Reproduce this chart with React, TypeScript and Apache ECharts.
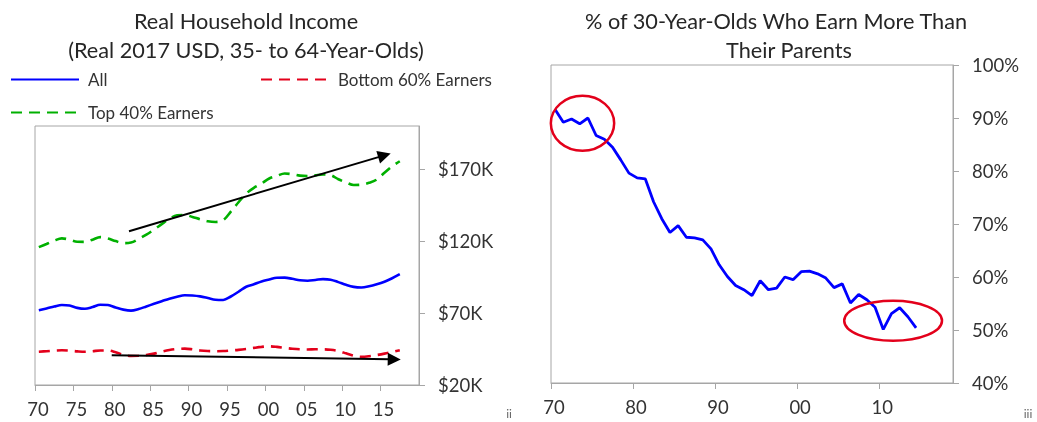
import React, { useEffect, useRef } from "react";
import * as echarts from "echarts";

// ---------- Data ----------
const incomeYears = [
  1970, 1971, 1972, 1973, 1974, 1975, 1976, 1977, 1978, 1979,
  1980, 1981, 1982, 1983, 1984, 1985, 1986, 1987, 1988, 1989,
  1990, 1991, 1992, 1993, 1994, 1995, 1996, 1997, 1998, 1999,
  2000, 2001, 2002, 2003, 2004, 2005, 2006, 2007, 2008, 2009,
  2010, 2011, 2012, 2013, 2014, 2015, 2016, 2017,
];
// thousands of real 2017 USD
const allIncome = [
  72.0, 73.2, 74.5, 75.6, 75.2, 73.6, 73.0, 74.2, 75.8, 75.6,
  73.9, 72.4, 71.7, 72.8, 74.6, 76.4, 78.2, 80.0, 81.4, 82.4,
  82.2, 81.6, 80.5, 79.3, 79.1, 81.5, 84.8, 88.3, 90.0, 92.0,
  93.3, 94.5, 94.6, 93.8, 92.8, 92.5, 93.0, 93.6, 93.2, 91.5,
  89.6, 88.2, 87.8, 88.6, 90.0, 91.8, 94.2, 97.0,
];
const bottom60Income = [
  43.1, 43.5, 43.9, 44.1, 43.9, 43.4, 43.1, 43.5, 44.0, 44.0,
  42.8, 41.0, 40.2, 40.3, 40.8, 41.8, 43.2, 44.3, 45.0, 45.3,
  44.8, 44.0, 43.6, 43.5, 43.6, 44.0, 44.4, 45.0, 45.8, 46.5,
  46.9, 46.5, 45.8, 45.2, 44.8, 44.7, 44.8, 44.8, 44.5, 43.6,
  42.0, 40.3, 39.6, 40.0, 40.8, 41.8, 43.0, 44.2,
];
const top40Income = [
  115.8, 118.0, 120.3, 121.9, 121.0, 119.6, 119.5, 121.0, 122.8, 121.8,
  120.0, 118.6, 119.0, 121.5, 124.5, 128.0, 131.8, 135.5, 138.0, 138.2,
  136.8, 135.2, 133.8, 133.3, 134.5, 140.5, 147.0, 153.0, 157.0, 160.0,
  163.5, 165.3, 167.0, 166.5, 165.5, 165.2, 165.8, 166.3, 165.8, 163.0,
  160.8, 159.0, 159.2, 160.5, 162.8, 167.5, 172.0, 175.5,
];

const cohortYears = [
  1970, 1971, 1972, 1973, 1974, 1975, 1976, 1977, 1978, 1979,
  1980, 1981, 1982, 1983, 1984, 1985, 1986, 1987, 1988, 1989,
  1990, 1991, 1992, 1993, 1994, 1995, 1996, 1997, 1998, 1999,
  2000, 2001, 2002, 2003, 2004, 2005, 2006, 2007, 2008, 2009,
  2010, 2011, 2012, 2013, 2014,
];
const pctEarnMore = [
  91.6, 89.2, 89.8, 88.9, 90.0, 86.7, 86.0, 84.5, 82.1, 79.6,
  78.7, 78.5, 74.2, 71.0, 68.4, 69.7, 67.5, 67.4, 67.0, 65.3,
  62.3, 60.1, 58.4, 57.6, 56.5, 59.3, 57.6, 57.9, 60.0, 59.5,
  61.0, 61.1, 60.6, 59.8, 58.0, 58.7, 55.1, 56.7, 55.7, 54.3,
  50.1, 53.1, 54.2, 52.5, 50.4,
];

// Trend arrows (data coords: [fromYear, from$K, tipYear, tip$K])
const trendArrows = [
  [1982.24, 126.9, 2016.31, 180.9],
  [1979.99, 40.7, 2017.62, 37.7],
];
// Highlight ellipses on right chart (centre year, centre %, radius years, radius %)
const highlightEllipses = [
  [1973.84, 89.0, 3.86, 5.19],
  [2011.7, 51.75, 5.96, 3.77],
];

const FONT = "Lato";
const TXT = "#333333";
const AXIS = "#a6a6a6";
const BLUE = "#0000ff";
const RED = "#e3001b";
const GREEN = "#00b000";

export default function App() {
  const ref = useRef<HTMLDivElement>(null);

  useEffect(() => {
    const chart = echarts.init(ref.current!, null, { renderer: "svg" });
    const two = (v: number) => String(((v % 100) + 100) % 100).padStart(2, "0");

    const legendBase = {
      itemWidth: 68,
      itemHeight: 14,
      padding: 0,
      selectedMode: false,
      itemStyle: { opacity: 0 },
      textStyle: { fontFamily: FONT, fontSize: 17, color: TXT, padding: [0, 0, 0, 4] },
    };

    const option: any = {
      animation: false,
      textStyle: { fontFamily: FONT },
      legend: [
        { ...legendBase, data: ["All"], left: 10, top: 71 },
        { ...legendBase, data: ["Bottom 60% Earners"], left: 260, top: 71 },
        { ...legendBase, data: ["Top 40% Earners"], left: 10, top: 104 },
      ],
      grid: [
        { left: 35, top: 126, width: 384, height: 259, show: true, borderColor: AXIS, borderWidth: 1, backgroundColor: "transparent" },
        { left: 551, top: 65, width: 402, height: 318, show: true, borderColor: AXIS, borderWidth: 1, backgroundColor: "transparent" },
      ],
      xAxis: [
        {
          type: "value", gridIndex: 0, min: 1970, max: 2020, interval: 5,
          axisLine: { show: true, lineStyle: { color: AXIS } },
          axisTick: { show: true, length: 6, lineStyle: { color: AXIS } },
          splitLine: { show: false },
          axisLabel: { formatter: two, fontSize: 18.5, color: TXT, margin: 14, showMaxLabel: false, padding: [0, 0, 0, 6] },
        },
        {
          type: "value", gridIndex: 1, min: 1970, max: 2019, interval: 10,
          axisLine: { show: true, lineStyle: { color: AXIS } },
          axisTick: { show: true, length: 6, lineStyle: { color: AXIS } },
          splitLine: { show: false },
          axisLabel: { formatter: two, fontSize: 18.5, color: TXT, margin: 14, showMaxLabel: false, padding: [0, 0, 0, 6] },
        },
      ],
      yAxis: [
        {
          type: "value", gridIndex: 0, position: "right", min: 20, max: 200, interval: 50,
          axisLine: { show: true, lineStyle: { color: AXIS } },
          axisTick: { show: true, length: 6, lineStyle: { color: AXIS } },
          splitLine: { show: false },
          axisLabel: { formatter: (v: number) => "$" + v + "K", fontSize: 18.5, color: TXT, margin: 19, showMaxLabel: false },
        },
        {
          type: "value", gridIndex: 1, position: "right", min: 40, max: 100, interval: 10,
          axisLine: { show: true, lineStyle: { color: AXIS } },
          axisTick: { show: true, length: 6, lineStyle: { color: AXIS } },
          splitLine: { show: false },
          axisLabel: { formatter: "{value}%", fontSize: 18.5, color: TXT, margin: 19 },
        },
      ],
      series: [
        {
          name: "All", type: "line", xAxisIndex: 0, yAxisIndex: 0, symbol: "none", smooth: 0.35,
          data: incomeYears.map((y, i) => [y + 0.5, allIncome[i]]),
          lineStyle: { color: BLUE, width: 2.6 }, itemStyle: { color: BLUE },
        },
        {
          name: "Bottom 60% Earners", type: "line", xAxisIndex: 0, yAxisIndex: 0, symbol: "none", smooth: 0.35,
          data: incomeYears.map((y, i) => [y + 0.5, bottom60Income[i]]),
          lineStyle: { color: RED, width: 2.6, type: [11, 7] }, itemStyle: { color: RED },
        },
        {
          name: "Top 40% Earners", type: "line", xAxisIndex: 0, yAxisIndex: 0, symbol: "none", smooth: 0.35,
          data: incomeYears.map((y, i) => [y + 0.5, top40Income[i]]),
          lineStyle: { color: GREEN, width: 2.6, type: [11, 7] }, itemStyle: { color: GREEN },
        },
        {
          name: "Trend", type: "custom", xAxisIndex: 0, yAxisIndex: 0, z: 10, silent: true,
          encode: { x: [0, 2], y: [1, 3] },
          data: trendArrows,
          renderItem: (params: any, api: any) => {
            const a = api.coord([api.value(0), api.value(1)]);
            const b = api.coord([api.value(2), api.value(3)]);
            const dx = b[0] - a[0], dy = b[1] - a[1];
            const len = Math.sqrt(dx * dx + dy * dy);
            const ux = dx / len, uy = dy / len;
            const headLen = 13, headHalf = 6.5;
            const bx = b[0] - ux * headLen, by = b[1] - uy * headLen;
            return {
              type: "group",
              children: [
                { type: "line", shape: { x1: a[0], y1: a[1], x2: bx + ux * 2, y2: by + uy * 2 }, style: { stroke: "#000", lineWidth: 2 } },
                {
                  type: "polygon",
                  shape: { points: [[b[0], b[1]], [bx - uy * headHalf, by + ux * headHalf], [bx + uy * headHalf, by - ux * headHalf]] },
                  style: { fill: "#000" },
                },
              ],
            };
          },
        },
        {
          name: "% Earn More", type: "line", xAxisIndex: 1, yAxisIndex: 1, symbol: "none",
          data: cohortYears.map((y, i) => [y + 0.5, pctEarnMore[i]]),
          lineStyle: { color: BLUE, width: 2.8 }, itemStyle: { color: BLUE },
        },
      ],
    };
    chart.setOption(option);

    const titleStyle = (text: string) => ({ text, fontFamily: FONT, fontSize: 21.7, fill: "#262626", align: "center", verticalAlign: "middle" });
    const graphics: any[] = [
      { type: "text", x: 246, y: 21, style: titleStyle("Real Household Income") },
      { type: "text", x: 246, y: 50, style: titleStyle("(Real 2017 USD, 35- to 64-Year-Olds)") },
      { type: "text", x: 776, y: 21, style: titleStyle("% of 30-Year-Olds Who Earn More Than") },
      { type: "text", x: 789, y: 50, style: titleStyle("Their Parents") },
      { type: "text", x: 509, y: 413, style: { text: "ii", fontFamily: FONT, fontSize: 12, fill: "#666", align: "center", verticalAlign: "middle" } },
      { type: "text", x: 1028, y: 413, style: { text: "iii", fontFamily: FONT, fontSize: 12, fill: "#666", align: "center", verticalAlign: "middle" } },
    ];
    highlightEllipses.forEach(([cx, cy, rx, ry]) => {
      const c = chart.convertToPixel({ xAxisIndex: 1, yAxisIndex: 1 } as any, [cx, cy]) as number[];
      const ex = chart.convertToPixel({ xAxisIndex: 1, yAxisIndex: 1 } as any, [cx + rx, cy + ry]) as number[];
      graphics.push({
        type: "ellipse", z: 100,
        shape: { cx: c[0], cy: c[1], rx: Math.abs(ex[0] - c[0]), ry: Math.abs(c[1] - ex[1]) },
        style: { fill: "none", stroke: RED, lineWidth: 2.5 },
      });
    });
    chart.setOption({ graphic: graphics });

    return () => chart.dispose();
  }, []);

  return <div ref={ref} style={{ position: "fixed", left: 0, top: 0, width: 1037, height: 422 }} />;
}
